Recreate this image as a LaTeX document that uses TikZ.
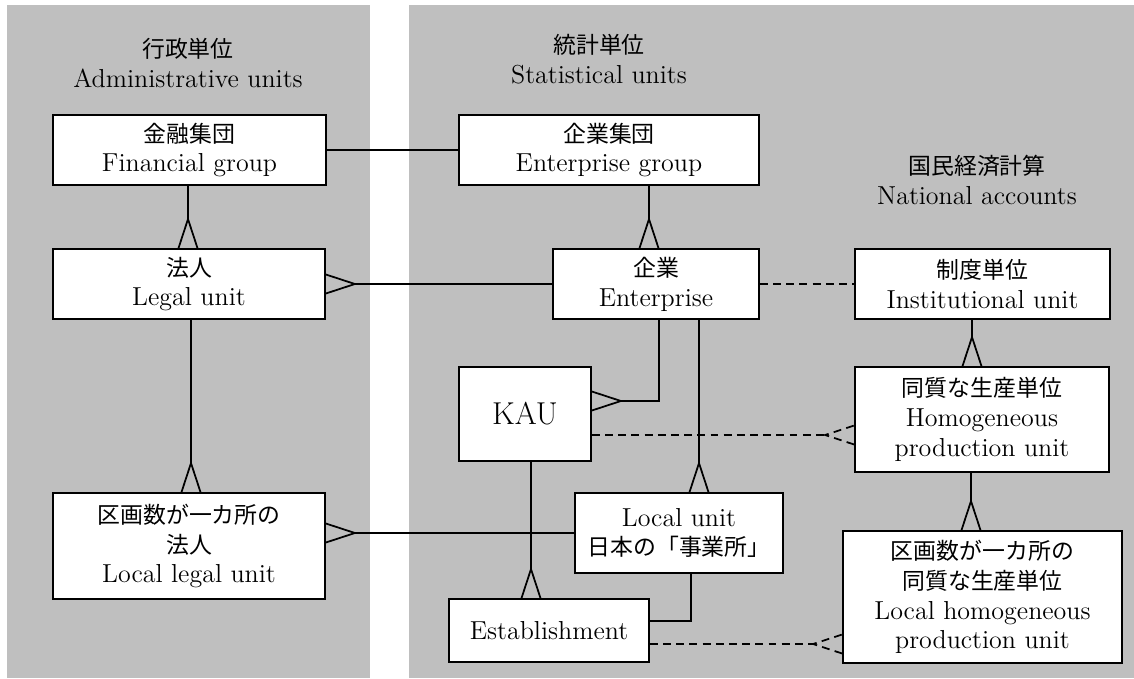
\documentclass[tikz,border=0pt]{standalone}
\usepackage{fontspec}
\newfontfamily\jp{Noto Sans CJK JP}[Scale=0.88]
\definecolor{panelgray}{RGB}{191,191,191}
\begin{document}
\begin{tikzpicture}[
        line width=1pt,
        font=\fontsize{14.8}{17}\selectfont
    ]
    \tikzset{
        unitbox/.style = {rectangle, draw=black, fill=white, align=center, inner sep=0pt},
        heading/.style = {align=center},
        link/.style = {dash pattern=on 4.5pt off 3pt},
        crow/.pic = {\draw (-0.19,0) -- (0,0.58) -- (0.19,0);},
    }
    \useasboundingbox (0,0) rectangle (22.68,-13.56);
    % panels
    \fill[panelgray] (0.14,-0.10) rectangle (7.40,-13.56);
    \fill[panelgray] (8.18,-0.10) rectangle (22.68,-13.56);
    % headings
    \node[heading] (admin) at (3.76,-1.26) {{\jp 行政単位}\\Administrative units};
    \node[heading] (stat) at (11.98,-1.18) {{\jp 統計単位}\\Statistical units};
    \node[heading] (natl) at (19.54,-3.60) {{\jp 国民経済計算}\\National accounts};
    % units
    \node[unitbox, minimum width=5.46cm, minimum height=1.40cm] (fin) at (3.79,-3.00) {{\jp 金融集団}\\Financial group};
    \node[unitbox, minimum width=6.00cm, minimum height=1.40cm] (egrp) at (12.18,-3.00) {{\jp 企業集団}\\Enterprise group};
    \node[unitbox, minimum width=5.44cm, minimum height=1.40cm] (legal) at (3.78,-5.68) {{\jp 法人}\\Legal unit};
    \node[unitbox, minimum width=4.12cm, minimum height=1.40cm] (ent) at (13.12,-5.68) {{\jp 企業}\\Enterprise};
    \node[unitbox, minimum width=5.10cm, minimum height=1.40cm] (inst) at (19.65,-5.68) {{\jp 制度単位}\\Institutional unit};
    \node[unitbox, minimum width=2.64cm, minimum height=1.88cm, font=\fontsize{18}{21}\selectfont] (kau) at (10.50,-8.28) {KAU};
    \node[unitbox, minimum width=5.08cm, minimum height=2.10cm] (homog) at (19.64,-8.39) {{\jp 同質な生産単位}\\Homogeneous\\production unit};
    \node[unitbox, minimum width=5.44cm, minimum height=2.12cm] (llegal) at (3.78,-10.92) {{\jp 区画数が一カ所の}\\{\jp 法人}\\Local legal unit};
    \node[unitbox, minimum width=4.16cm, minimum height=1.60cm] (local) at (13.58,-10.66) {Local unit\\{\jp 日本の「事業所」}};
    \node[unitbox, minimum width=4.00cm, minimum height=1.26cm] (estab) at (10.98,-12.61) {Establishment};
    \node[unitbox, minimum width=5.58cm, minimum height=2.64cm] (lhomog) at (19.65,-11.94) {{\jp 区画数が一カ所の}\\{\jp 同質な生産単位}\\Local homogeneous\\production unit};
    % connector ends
    \coordinate (findown) at ([xshift=-0.03cm]fin.south);
    \coordinate (legalin) at (findown |- legal.north);
    \coordinate (legaldown) at ([xshift=0.04cm]legal.south);
    \coordinate (llegalin) at (legaldown |- llegal.north);
    \coordinate (egrpdown) at ([xshift=0.80cm]egrp.south);
    \coordinate (entin) at (egrpdown |- ent.north);
    \coordinate (entleft) at ([xshift=0.06cm]ent.south);
    \coordinate (entright) at ([xshift=0.86cm]ent.south);
    \coordinate (localin) at (entright |- local.north);
    \coordinate (kauin) at ([yshift=0.26cm]kau.east);
    \coordinate (kauout) at ([yshift=-0.42cm]kau.east);
    \coordinate (kaudown) at ([xshift=0.12cm]kau.south);
    \coordinate (estabin) at (kaudown |- estab.north);
    \coordinate (llegalside) at (local.west -| llegal.east);
    \coordinate (instdown) at ([xshift=-0.21cm]inst.south);
    \coordinate (homogin) at (instdown |- homog.north);
    \coordinate (homogdown) at ([xshift=-0.22cm]homog.south);
    \coordinate (lhomogin) at (homogdown |- lhomog.north);
    \coordinate (homogside) at (kauout -| homog.west);
    \coordinate (estabout) at ([yshift=-0.27cm]estab.east);
    \coordinate (lhomogside) at (estabout -| lhomog.west);
    % connectors
    \draw (fin.east) -- (egrp.west);
    \draw (findown) -- ([yshift=0.58cm]legalin);
    \pic at (legalin) {crow};
    \draw (egrpdown) -- ([yshift=0.58cm]entin);
    \pic at (entin) {crow};
    \draw (ent.west) -- ([xshift=0.58cm]legal.east);
    \pic[rotate=-90] at (legal.east) {crow};
    \draw (legaldown) -- ([yshift=0.58cm]llegalin);
    \pic at (llegalin) {crow};
    \draw (local.west) -- ([xshift=0.58cm]llegalside);
    \pic[rotate=-90] at (llegalside) {crow};
    \draw (entleft) |- ([xshift=0.58cm]kauin);
    \pic[rotate=-90] at (kauin) {crow};
    \draw (entright) -- ([yshift=0.58cm]localin);
    \pic at (localin) {crow};
    \draw (kaudown) -- ([yshift=0.58cm]estabin);
    \pic at (estabin) {crow};
    \draw ([xshift=0.24cm]local.south) |- ([yshift=0.19cm]estab.east);
    \draw[link] (ent.east) -- (inst.west);
    \draw (instdown) -- ([yshift=0.58cm]homogin);
    \pic at (homogin) {crow};
    \draw (homogdown) -- ([yshift=0.58cm]lhomogin);
    \pic at (lhomogin) {crow};
    \draw[link] (kauout) -- ([xshift=-0.58cm]homogside);
    \pic[link, rotate=90] at (homogside) {crow};
    \draw[link] (estabout) -- ([xshift=-0.58cm]lhomogside);
    \pic[link, rotate=90] at (lhomogside) {crow};
\end{tikzpicture}
\end{document}
